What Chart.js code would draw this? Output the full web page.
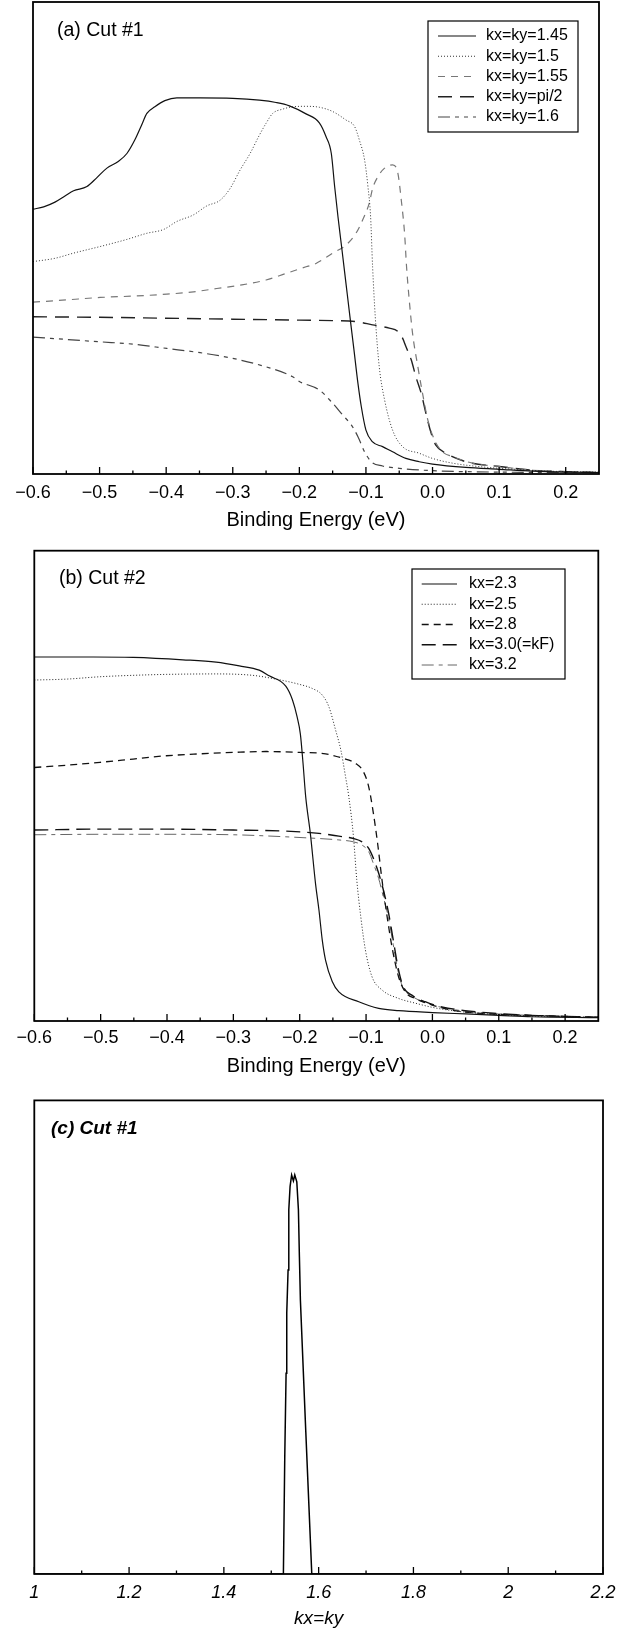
<!DOCTYPE html>
<html>
<head>
<meta charset="utf-8">
<script src="https://cdn.jsdelivr.net/npm/chart.js@4.4.0/dist/chart.umd.min.js"></script>
<style>
html,body{margin:0;padding:0;background:#fff;}
canvas{position:absolute;left:0;display:block;}
</style>
</head>
<body>
<canvas id="ca" width="638" height="540" style="top:0px"></canvas>
<canvas id="cb" width="638" height="546" style="top:540px"></canvas>
<canvas id="cc" width="638" height="546" style="top:1086px"></canvas>
<script>
// ---------- tick labels ----------
const xTicksAB = [-0.6, -0.5, -0.4, -0.3, -0.2, -0.1, 0.0, 0.1, 0.2];
const xMinorAB = [-0.55, -0.45, -0.35, -0.25, -0.15, -0.05, 0.05, 0.15];
const xTicksC = [1, 1.2, 1.4, 1.6, 1.8, 2, 2.2];
const xMinorC = [1.1, 1.3, 1.5, 1.7, 1.9, 2.1];

// ---------- panel (a) Cut #1 ----------
const labelsA = ['kx=ky=1.45', 'kx=ky=1.5', 'kx=ky=1.55', 'kx=ky=pi/2', 'kx=ky=1.6'];
const a1x = [-0.6,-0.584,-0.567,-0.552,-0.539,-0.519,-0.504,-0.489,-0.472,-0.459,-0.447,-0.437,-0.429,-0.417,-0.402,-0.384,-0.349,-0.30,-0.26,-0.235,-0.215,-0.19,-0.17,-0.16,-0.152,-0.147,-0.142,-0.136,-0.13,-0.124,-0.118,-0.112,-0.107,-0.1,-0.09,-0.075,-0.06,-0.04,-0.02,0.0,0.05,0.1,0.15,0.2,0.25];
const a1y = [0.561,0.566,0.576,0.589,0.600,0.609,0.628,0.648,0.662,0.679,0.708,0.739,0.764,0.778,0.791,0.797,0.797,0.796,0.792,0.787,0.780,0.763,0.744,0.715,0.679,0.609,0.545,0.475,0.404,0.333,0.263,0.192,0.143,0.093,0.068,0.058,0.047,0.033,0.026,0.021,0.014,0.010,0.006,0.004,0.003];
const a2x = [-0.6,-0.567,-0.539,-0.499,-0.459,-0.429,-0.404,-0.384,-0.359,-0.339,-0.319,-0.304,-0.289,-0.274,-0.26,-0.25,-0.24,-0.225,-0.21,-0.19,-0.17,-0.15,-0.13,-0.117,-0.11,-0.102,-0.097,-0.093,-0.09,-0.086,-0.08,-0.072,-0.06,-0.045,-0.02,0.0,0.03,0.075,0.125,0.175,0.25];
const a2y = [0.450,0.457,0.468,0.482,0.497,0.510,0.518,0.535,0.549,0.568,0.580,0.605,0.644,0.679,0.718,0.743,0.764,0.773,0.778,0.779,0.777,0.768,0.750,0.736,0.708,0.665,0.609,0.545,0.439,0.333,0.227,0.157,0.093,0.058,0.044,0.033,0.023,0.015,0.010,0.006,0.004];
const a3x = [-0.6,-0.549,-0.499,-0.449,-0.399,-0.359,-0.324,-0.289,-0.25,-0.22,-0.19,-0.175,-0.15,-0.13,-0.115,-0.105,-0.095,-0.09,-0.082,-0.072,-0.06,-0.052,-0.047,-0.042,-0.039,-0.035,-0.03,-0.022,-0.015,-0.007,0.003,0.015,0.03,0.06,0.1,0.15,0.25];
const a3y = [0.364,0.369,0.374,0.377,0.381,0.386,0.393,0.400,0.411,0.425,0.439,0.446,0.468,0.485,0.510,0.538,0.574,0.605,0.630,0.648,0.655,0.637,0.581,0.510,0.439,0.369,0.298,0.227,0.171,0.114,0.072,0.047,0.037,0.023,0.016,0.008,0.004];
const a4x = [-0.6,-0.5,-0.4,-0.3,-0.2,-0.15,-0.115,-0.09,-0.065,-0.052,-0.045,-0.04,-0.032,-0.025,-0.017,-0.01,-0.002,0.005,0.02,0.05,0.1,0.15,0.25];
const a4y = [0.333,0.332,0.330,0.328,0.326,0.325,0.323,0.316,0.309,0.302,0.288,0.270,0.242,0.206,0.171,0.129,0.086,0.061,0.044,0.026,0.016,0.008,0.003];
const a5x = [-0.6,-0.549,-0.499,-0.449,-0.399,-0.349,-0.3,-0.25,-0.21,-0.2,-0.17,-0.15,-0.135,-0.122,-0.112,-0.102,-0.092,-0.075,-0.05,0.0,0.1,0.25];
const a5y = [0.290,0.285,0.280,0.275,0.266,0.257,0.245,0.227,0.206,0.196,0.178,0.150,0.125,0.104,0.079,0.047,0.026,0.017,0.012,0.007,0.004,0.003];

// ---------- panel (b) Cut #2 ----------
const labelsB = ['kx=2.3', 'kx=2.5', 'kx=2.8', 'kx=3.0(=kF)', 'kx=3.2'];
const b1x = [-0.6,-0.511,-0.451,-0.376,-0.326,-0.291,-0.261,-0.246,-0.221,-0.211,-0.204,-0.199,-0.195,-0.191,-0.184,-0.176,-0.171,-0.166,-0.161,-0.151,-0.141,-0.111,-0.081,-0.051,0.0,0.05,0.1,0.15,0.25];
const b1y = [0.774,0.774,0.773,0.768,0.763,0.755,0.746,0.734,0.712,0.683,0.647,0.610,0.548,0.477,0.399,0.290,0.236,0.172,0.129,0.084,0.062,0.041,0.027,0.022,0.018,0.015,0.012,0.009,0.007];
const b2x = [-0.6,-0.551,-0.501,-0.451,-0.401,-0.326,-0.271,-0.236,-0.201,-0.181,-0.166,-0.156,-0.146,-0.138,-0.131,-0.126,-0.119,-0.114,-0.108,-0.101,-0.091,-0.076,-0.051,-0.026,0.0,0.03,0.074,0.124,0.2,0.25];
const b2y = [0.725,0.727,0.732,0.735,0.737,0.738,0.735,0.727,0.716,0.707,0.693,0.668,0.619,0.576,0.520,0.477,0.392,0.300,0.222,0.151,0.094,0.066,0.048,0.038,0.029,0.022,0.016,0.012,0.009,0.008];
const b3x = [-0.6,-0.551,-0.501,-0.451,-0.401,-0.351,-0.301,-0.251,-0.201,-0.161,-0.136,-0.116,-0.104,-0.096,-0.089,-0.082,-0.076,-0.069,-0.061,-0.051,-0.041,-0.026,0.0,0.03,0.074,0.149,0.25];
const b3y = [0.539,0.544,0.550,0.557,0.564,0.568,0.571,0.573,0.571,0.568,0.559,0.548,0.530,0.498,0.442,0.371,0.300,0.229,0.158,0.094,0.062,0.048,0.034,0.023,0.016,0.012,0.008];
const b4x = [-0.6,-0.5,-0.4,-0.3,-0.226,-0.171,-0.141,-0.119,-0.106,-0.096,-0.089,-0.081,-0.074,-0.066,-0.059,-0.051,-0.044,-0.031,-0.011,0.014,0.049,0.099,0.149,0.25];
const b4y = [0.406,0.408,0.408,0.406,0.404,0.399,0.393,0.388,0.381,0.367,0.346,0.314,0.279,0.229,0.172,0.108,0.073,0.055,0.041,0.030,0.022,0.016,0.012,0.008];
const b5x = [-0.6,-0.5,-0.4,-0.3,-0.226,-0.184,-0.171,-0.141,-0.119,-0.106,-0.096,-0.089,-0.081,-0.074,-0.066,-0.059,-0.051,-0.044,-0.031,-0.011,0.014,0.049,0.099,0.25];
const b5y = [0.396,0.397,0.397,0.396,0.392,0.389,0.388,0.385,0.381,0.374,0.360,0.335,0.303,0.264,0.218,0.162,0.101,0.070,0.053,0.039,0.029,0.021,0.015,0.008];

// ---------- panel (c) Cut #1 ----------
const cx = [1.0,1.5256,1.5285,1.5313,1.5327,1.5355,1.537,1.5397,1.543,1.5467,1.5496,1.5539,1.5573,1.5594,1.5615,1.5729,1.5855,2.2];
const cy = [0,0,0.248,0.424,0.551,0.642,0.769,0.818,0.8425,0.830,0.8425,0.828,0.769,0.670,0.578,0.30,0,0];

// ---------- helpers ----------
const FONT = '"Liberation Sans", Arial, Helvetica, sans-serif';
Chart.defaults.font.family = FONT;
Chart.defaults.color = '#000';

function pts(xs, ys) { return xs.map((x, i) => ({x: x, y: ys[i]})); }

function ds(label, xs, ys, color, width, dash, smooth) {
  return {
    label: label, data: pts(xs, ys), borderColor: color, borderWidth: width,
    borderDash: dash, pointRadius: 0, fill: false,
    cubicInterpolationMode: smooth ? 'monotone' : 'default', tension: 0
  };
}

const framePlugin = {
  id: 'frame',
  afterDatasetsDraw(chart, args, o) {
    const ctx = chart.ctx, a = chart.chartArea, xs = chart.scales.x;
    ctx.save();
    ctx.setLineDash([]);
    ctx.strokeStyle = '#000';
    ctx.lineWidth = o.border;
    ctx.strokeRect(a.left, a.top, a.right - a.left, a.bottom - a.top);
    ctx.lineWidth = 1.3;
    ctx.beginPath();
    o.major.forEach(v => { const p = xs.getPixelForValue(v); ctx.moveTo(p, a.bottom); ctx.lineTo(p, a.bottom - 7); });
    o.minor.forEach(v => { const p = xs.getPixelForValue(v); ctx.moveTo(p, a.bottom); ctx.lineTo(p, a.bottom - 3.5); });
    ctx.stroke();
    ctx.fillStyle = '#000';
    ctx.textBaseline = 'middle';
    ctx.textAlign = 'left';
    ctx.font = o.titleFont;
    ctx.fillText(o.title, o.titleX, o.titleY);
    if (o.legend) {
      const L = o.legend;
      ctx.fillStyle = '#fff';
      ctx.fillRect(L.x, L.y, L.w, L.h);
      ctx.strokeStyle = '#000';
      ctx.lineWidth = 1.2;
      ctx.strokeRect(L.x, L.y, L.w, L.h);
      chart.data.datasets.forEach((d, i) => {
        const y = L.row0 + i * L.step;
        ctx.save();
        ctx.strokeStyle = d.borderColor;
        ctx.lineWidth = d.borderWidth;
        ctx.setLineDash(d.borderDash || []);
        ctx.beginPath(); ctx.moveTo(L.sx1, y); ctx.lineTo(L.sx2, y); ctx.stroke();
        ctx.restore();
        ctx.fillStyle = '#000';
        ctx.font = L.font;
        ctx.fillText(d.label, L.tx, y);
      });
    }
    ctx.restore();
  }
};

function fmtAB(v) { const s = Math.abs(v).toFixed(1); return (v < -1e-9 ? '\u2212' : '') + s; }
function fmtC(v) { return String(Number(v.toFixed(1))); }

function makeChart(id, datasets, cfg) {
  return new Chart(document.getElementById(id), {
    type: 'line',
    data: {datasets: datasets},
    options: {
      responsive: false, animation: false, devicePixelRatio: 1,
      layout: {padding: cfg.pad},
      plugins: {legend: {display: false}, tooltip: {enabled: false}, frame: cfg.frame},
      scales: {
        x: {
          type: 'linear', min: cfg.xmin, max: cfg.xmax,
          grid: {display: false, drawTicks: false},
          border: {display: false},
          ticks: {padding: cfg.tickPad, font: cfg.tickFont, color: '#000', autoSkip: false, maxRotation: 0, callback: cfg.fmt},
          title: {display: true, text: cfg.xTitle, font: cfg.titleFont, color: '#000', padding: {top: 0, bottom: cfg.titlePad}},
          afterBuildTicks: s => { s.ticks = cfg.ticks.map(v => ({value: v})); },
          afterFit: s => { s.height = cfg.xh; }
        },
        y: {type: 'linear', min: 0, max: 1, display: false}
      }
    },
    plugins: [framePlugin]
  });
}

// ---------- panel (a) ----------
makeChart('ca', [
  ds(labelsA[0], a1x, a1y, '#111', 1.2, [], true),
  ds(labelsA[1], a2x, a2y, '#333', 1.0, [1, 2], true),
  ds(labelsA[2], a3x, a3y, '#777', 1.2, [7, 6], true),
  ds(labelsA[3], a4x, a4y, '#222', 1.4, [14, 8], true),
  ds(labelsA[4], a5x, a5y, '#444', 1.2, [12, 5, 4, 5, 4, 5], true)
], {
  pad: {left: 33, right: 39, top: 2, bottom: 0},
  xmin: -0.6, xmax: 0.25, ticks: xTicksAB, fmt: fmtAB,
  tickPad: 8, tickFont: {size: 18}, xTitle: 'Binding Energy (eV)', titleFont: {size: 20}, titlePad: 8, xh: 66,
  frame: {border: 1.8, major: xTicksAB, minor: xMinorAB, title: '(a) Cut #1', titleFont: '19.5px ' + FONT, titleX: 57, titleY: 31,
    legend: {x: 428, y: 21, w: 150, h: 111, row0: 36, step: 20.25, sx1: 438, sx2: 476, tx: 486, font: '16px ' + FONT}}
});

// ---------- panel (b) ----------
makeChart('cb', [
  ds(labelsB[0], b1x, b1y, '#111', 1.2, [], true),
  ds(labelsB[1], b2x, b2y, '#222', 1.0, [1, 2], true),
  ds(labelsB[2], b3x, b3y, '#111', 1.3, [7, 5], true),
  ds(labelsB[3], b4x, b4y, '#111', 1.4, [14, 7], true),
  ds(labelsB[4], b5x, b5y, '#666', 1.0, [12, 5, 4, 5], true)
], {
  pad: {left: 34.3, right: 39.7, top: 10.7, bottom: 0},
  xmin: -0.6, xmax: 0.25, ticks: xTicksAB, fmt: fmtAB,
  tickPad: 6, tickFont: {size: 18}, xTitle: 'Binding Energy (eV)', titleFont: {size: 20}, titlePad: 8, xh: 65,
  frame: {border: 1.8, major: xTicksAB, minor: xMinorAB, title: '(b) Cut #2', titleFont: '19.5px ' + FONT, titleX: 59, titleY: 38.3,
    legend: {x: 412, y: 29, w: 153, h: 110, row0: 44, step: 20.25, sx1: 421.7, sx2: 457, tx: 469, font: '16px ' + FONT}}
});

// ---------- panel (c) ----------
makeChart('cc', [
  ds('kx=ky', cx, cy, '#000', 1.5, [], false)
], {
  pad: {left: 34.3, right: 35, top: 14.4, bottom: 0},
  xmin: 1, xmax: 2.2, ticks: xTicksC, fmt: fmtC,
  tickPad: 8, tickFont: {size: 18, style: 'italic'}, xTitle: 'kx=ky', titleFont: {size: 19, style: 'italic'}, titlePad: 2, xh: 58,
  frame: {border: 1.8, major: xTicksC, minor: xMinorC, title: '(c) Cut #1', titleFont: 'italic bold 19px ' + FONT, titleX: 51, titleY: 42.6, legend: null}
});
</script>
</body>
</html>
